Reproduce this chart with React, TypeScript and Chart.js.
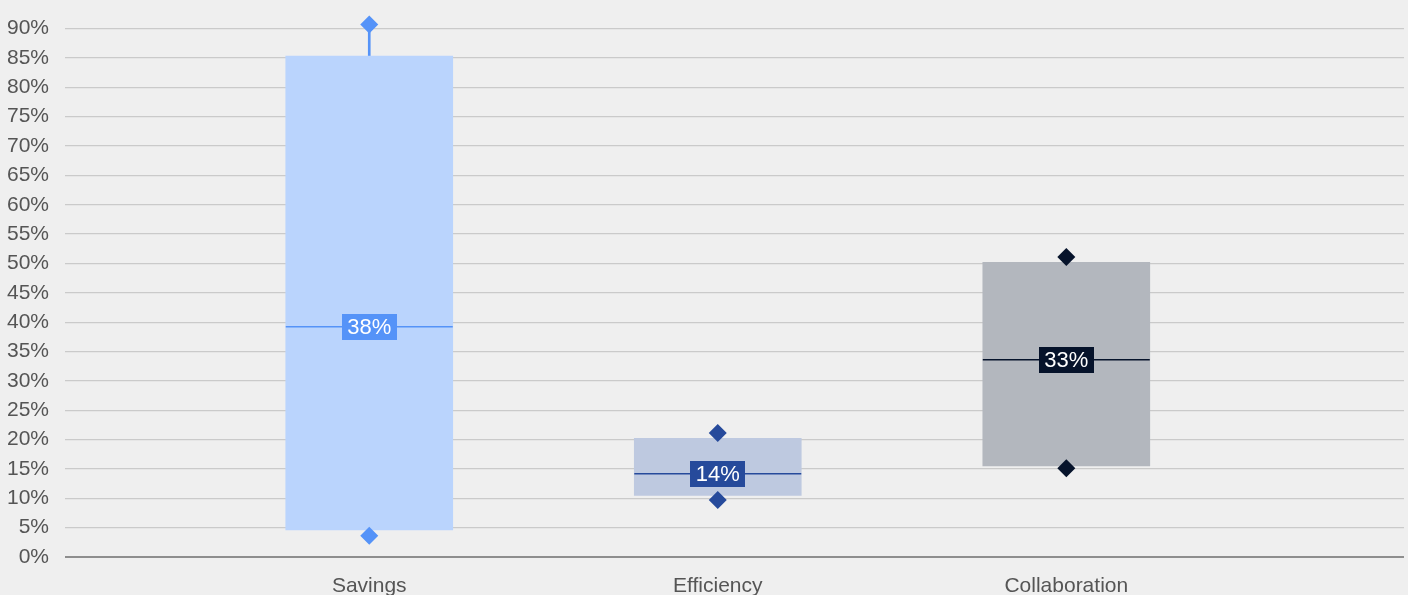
import React, { useEffect, useRef } from 'react';
import { Chart, registerables } from 'chart.js';

Chart.register(...registerables);

const categories = ['Savings', 'Efficiency', 'Collaboration'];
const boxLow = [4.6, 10.5, 15.5];
const boxHigh = [85.3, 20.2, 50.2];
const medians = [39.2, 14.2, 33.6];
const labelValues = [38, 14, 33];
const whiskerLow = [3.6, 9.7, 15.1];
const whiskerHigh = [90.7, 21.1, 51.1];
const yMin = 0;
const yMax = 90;
const yStep = 5;

const boxColors = ['#bad4fd', '#bec9e0', '#b3b7be'];
const accentColors = ['#5593f8', '#264a9b', '#06132b'];

const FONT = "'Liberation Sans', Arial, Helvetica, sans-serif";

const medianPlugin = {
  id: 'medianLabels',
  afterDatasetsDraw(chart: any) {
    const ctx = chart.ctx;
    const yScale = chart.scales.y;
    const meta = chart.getDatasetMeta(1);
    ctx.save();
    medians.forEach((m, i) => {
      const el = meta.data[i];
      if (!el) return;
      const half = el.width / 2;
      const x = el.x;
      const y = yScale.getPixelForValue(m);
      ctx.strokeStyle = accentColors[i];
      ctx.lineWidth = 1.5;
      ctx.beginPath();
      ctx.moveTo(x - half, y);
      ctx.lineTo(x + half, y);
      ctx.stroke();
      const text = labelValues[i] + '%';
      ctx.font = `22px ${FONT}`;
      const tw = ctx.measureText(text).width;
      const w = tw + 11;
      const h = 26;
      ctx.fillStyle = accentColors[i];
      ctx.fillRect(Math.round(x - w / 2), Math.round(y - h / 2), Math.round(w), h);
      ctx.fillStyle = '#ffffff';
      ctx.textAlign = 'center';
      ctx.textBaseline = 'middle';
      ctx.fillText(text, x, y + 1);
    });
    ctx.restore();
  },
};

export default function App() {
  const ref = useRef<HTMLCanvasElement | null>(null);

  useEffect(() => {
    if (!ref.current) return;
    const diamondData: any[] = [];
    const diamondColors: string[] = [];
    categories.forEach((_, i) => {
      diamondData.push({ x: i + 1, y: whiskerHigh[i] });
      diamondColors.push(accentColors[i]);
      diamondData.push({ x: i + 1, y: whiskerLow[i] });
      diamondColors.push(accentColors[i]);
    });

    const chart = new Chart(ref.current, {
      type: 'bar',
      data: {
        datasets: [
          {
            type: 'scatter',
            label: 'Range',
            data: diamondData,
            pointStyle: 'rectRot',
            pointRadius: 9,
            pointBorderWidth: 0,
            pointBackgroundColor: diamondColors,
            pointBorderColor: diamondColors,
            clip: false,
            order: 0,
          } as any,
          {
            type: 'bar',
            label: 'Box',
            data: categories.map((_, i) => ({ x: i + 1, y: [boxLow[i], boxHigh[i]] })),
            backgroundColor: boxColors,
            borderWidth: 0,
            barThickness: 167,
            grouped: false,
            order: 1,
          } as any,
          {
            type: 'bar',
            label: 'Whisker',
            data: categories.map((_, i) => ({ x: i + 1, y: [whiskerLow[i], whiskerHigh[i]] })),
            backgroundColor: accentColors,
            borderWidth: 0,
            barThickness: 2,
            grouped: false,
            order: 2,
          } as any,
        ],
      },
      options: {
        animation: false,
        responsive: false,
        events: [],
        layout: { autoPadding: false, padding: { top: 25, right: 4, left: 0, bottom: 0 } },
        plugins: {
          legend: { display: false },
          tooltip: { enabled: false },
        },
        scales: {
          x: {
            type: 'linear',
            offset: false,
            min: 0.127,
            max: 3.969,
            grid: { display: false },
            border: { display: false },
            afterBuildTicks: (s: any) => {
              s.ticks = categories.map((_, i) => ({ value: i + 1 }));
            },
            afterFit: (s: any) => {
              s.height = 50;
              s.paddingLeft = 0;
              s.paddingRight = 0;
            },
            ticks: {
              autoSkip: false,
              maxRotation: 0,
              padding: 9,
              color: '#555555',
              font: { family: FONT, size: 21 },
              callback: (v: any) => categories[Math.round(Number(v)) - 1] ?? '',
            },
          },
          y: {
            type: 'linear',
            min: yMin,
            max: yMax,
            border: { display: false },
            grid: {
              drawTicks: false,
              color: (c: any) => (c.tick && c.tick.value === 0 ? '#8e8e8e' : '#cacaca'),
              lineWidth: (c: any) => (c.tick && c.tick.value === 0 ? 2 : 1.3),
            },
            afterFit: (s: any) => {
              s.width = 65;
            },
            ticks: {
              stepSize: yStep,
              padding: 16,
              color: '#555555',
              font: { family: FONT, size: 21 },
              callback: (v: any) => v + '%',
            },
          },
        },
      },
      plugins: [medianPlugin],
    });
    return () => chart.destroy();
  }, []);

  return (
    <div
      style={{
        position: 'absolute',
        left: 0,
        top: 0,
        width: 1408,
        height: 607,
        background: '#efefef',
      }}
    >
      <canvas ref={ref} width={1408} height={607} style={{ display: 'block' }} />
    </div>
  );
}
